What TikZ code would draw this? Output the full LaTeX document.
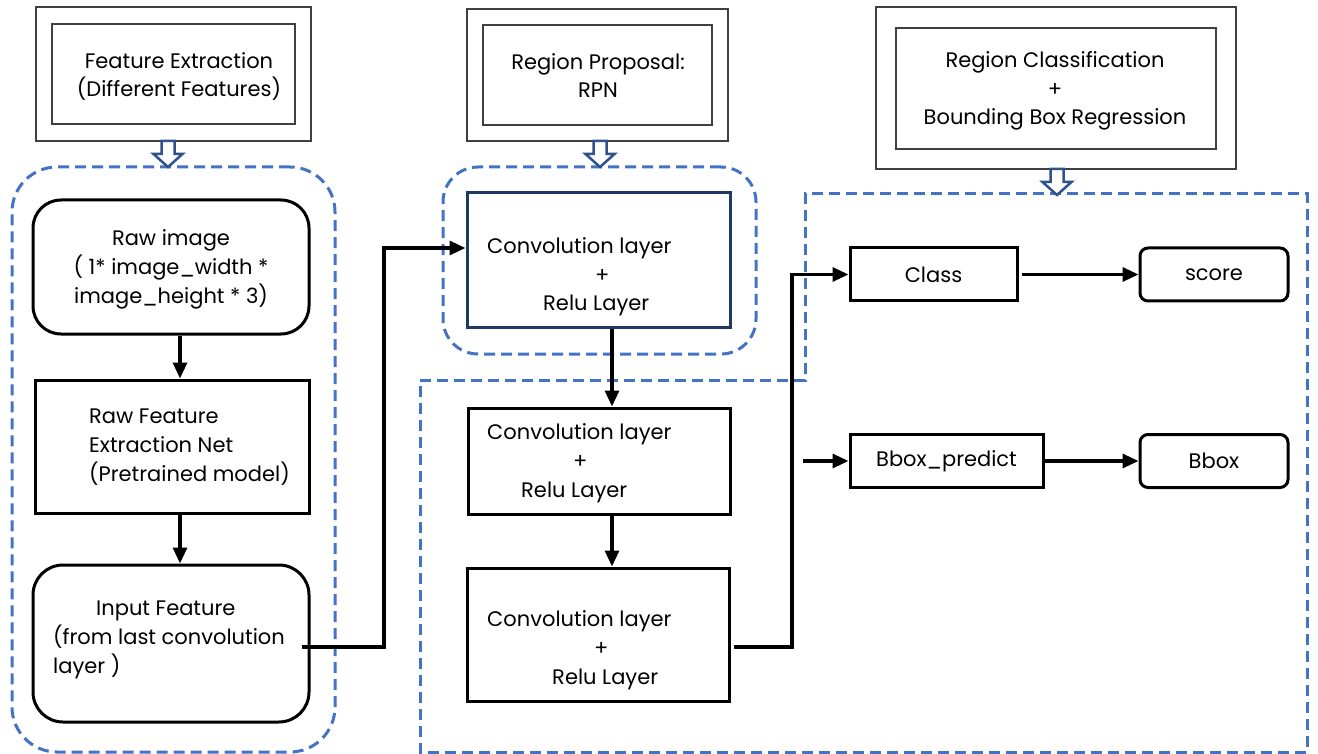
\documentclass[tikz,border=0pt]{standalone}
\usepackage{fontspec}
\setmainfont{Poppins}
\usetikzlibrary{arrows.meta,fit}
\definecolor{dashblue}{HTML}{4472C4}
\definecolor{hollowblue}{HTML}{2F528F}
\definecolor{navy}{HTML}{1F3864}
\definecolor{framegrey}{HTML}{404040}
\tikzset{
  frame/.style={draw=framegrey, line width=1.7pt, inner sep=0pt},
  blk/.style={draw=black, line width=3pt, inner sep=0pt},
  rblk/.style={blk, rounded corners=#1},
  navyblk/.style={draw=navy, line width=3pt, inner sep=0pt},
  group/.style={draw=dashblue, line width=3pt, dash pattern=on 11pt off 6pt, inner sep=0pt},
  txt/.style={inner sep=0pt, align=#1},
  arr/.style={line width=3.2pt, -{Triangle[length=16pt,width=14pt]}},
  hollow/.pic={\draw[hollowblue, line width=2.5pt, fill=white, line join=miter]
     (-6.5,0) -- (6.5,0) -- (6.5,13) -- (14.5,13) -- (0,26) -- (-14.5,13) -- (-6.5,13) -- cycle;}
}
\begin{document}
\begin{tikzpicture}[x=1pt, y=-1pt, font=\fontsize{21}{28.7}\selectfont]
\useasboundingbox (0,0) rectangle (1318,754);

% stage headers: double frames (text anchored at the baseline of its last line)
\node[frame, fit={(36,7) (311,141)}] (feo) {};
\node[frame, fit={(52,24) (295,124)}] (fei) {};
\node[txt=center, anchor=base] (fet) at (179,97) {Feature Extraction\\(Different Features)};

\node[frame, fit={(467,9) (728,141)}] (rpo) {};
\node[frame, fit={(483,25) (712,125)}] (rpi) {};
\node[txt=center, anchor=base] (rpt) at (598,98) {Region Proposal:\\RPN};

\node[frame, fit={(876,7) (1236,169)}] (rco) {};
\node[frame, fit={(896,28) (1216,149)}] (rci) {};
\node[txt=center, anchor=base] (rct) at (1055,125) {Region Classification\\+\\Bounding Box Regression};

% dashed stage groups
\node[group, rounded corners=45pt, fit={(12,167) (335,752)}] (g1) {};
\node[group, rounded corners=35pt, fit={(443,167) (756,354)}] (g2) {};
\draw[group] (420,380) -- (805,380) -- (805,194) -- (1307,194) -- (1307,752) -- (420,752) -- cycle;

% hollow arrows from headers to groups
\pic at (168,141) {hollow};
\pic at (600,141) {hollow};
\pic at (1057,169) {hollow};

% feature extraction column
\node[rblk=28pt, fit={(33,200) (309,334)}] (raw) {};
\node[txt=center, anchor=base] (rawt) at (171,303) {Raw image\\( 1* image\_width *\\image\_height * 3)};

\node[blk, fit={(35,380) (309,513)}] (rfe) {};
\node[txt=left, anchor=base west] (rfet) at (89,481) {Raw Feature\\Extraction Net\\(Pretrained model)};

\node[rblk=30pt, fit={(33,565) (309,722)}] (inp) {};
\node[txt=left, anchor=base west] (inpt) at (53,673) {\hspace*{43pt}Input Feature\\(from last convolution\\layer )};

% region proposal column
\node[navyblk, fit={(467,193) (730,327)}] (cv1) {};
\node[txt=left, anchor=base west] (cv1t) at (487,311)
  {Convolution layer\\\hspace*{115pt}\makebox[0pt]{+}\\\hspace*{109pt}\makebox[0pt]{Relu Layer}};

\node[blk, fit={(468,408) (730,514)}] (cv2) {};
\node[txt=left, anchor=base west] (cv2t) at (487,497)
  {Convolution layer\\\hspace*{93pt}\makebox[0pt]{+}\\\hspace*{87pt}\makebox[0pt]{Relu Layer}};

\node[blk, fit={(467,568) (729,701)}] (cv3) {};
\node[txt=left, anchor=base west] (cv3t) at (487,684)
  {Convolution layer\\\hspace*{114pt}\makebox[0pt]{+}\\\hspace*{118pt}\makebox[0pt]{Relu Layer}};

% classification / regression heads
\node[blk, minimum width=167pt, minimum height=53pt] (cls) at (933.5,274.5) {Class};
\node[rblk=8pt, minimum width=148pt, minimum height=53pt] (score) at (1214,274.5) {score};
\node[blk, minimum width=193pt, minimum height=53pt] (bbp) at (946.5,461) {Bbox\_predict};
\node[rblk=8pt, minimum width=148pt, minimum height=53pt] (bbox) at (1214,461) {Bbox};

% routing points
\coordinate (j1) at (384,248);
\coordinate (j2) at (792,647);
\coordinate (bbin) at (803,461);

% connectors
\draw[arr] ([xshift=9pt]raw.south) -- ([xshift=8pt]rfe.north);
\draw[arr] ([xshift=8pt]rfe.south) -- ([xshift=9pt]inp.north);
\draw[arr] ([xshift=-9pt,yshift=-3.5pt]inp.east) -| (j1) -- (j1 -| cv1.west);
\draw[arr] ([xshift=13.5pt]cv1.south) -- ([xshift=13.5pt]cv1.south |- cv2.north);
\draw[arr] ([xshift=13pt]cv2.south) -- ([xshift=13pt]cv2.south |- cv3.north);
\draw[arr] ([xshift=3pt]cv3.east |- j2) -- (j2) |- (cls.west);
\draw[arr] (bbin) -- (bbin -| bbp.west);
\draw[arr] ([xshift=3pt]cls.east) -- (cls.east -| score.west);
\draw[arr] (bbp.east) -- (bbp.east -| bbox.west);
\end{tikzpicture}
\end{document}
